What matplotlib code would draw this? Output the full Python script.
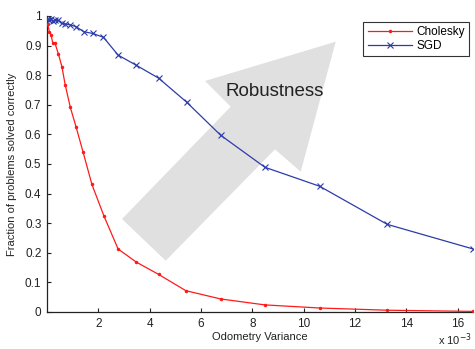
import matplotlib
matplotlib.use("Agg")
import matplotlib.pyplot as plt
from matplotlib.patches import Polygon

plt.rcParams['font.family'] = ['Liberation Sans', 'DejaVu Sans']

# Odometry variance (x 1e-3)
chol_x = [0.03, 0.09, 0.16, 0.22, 0.31, 0.44, 0.58, 0.71, 0.91, 1.13, 1.41, 1.75,
          2.22, 2.77, 3.47, 4.35, 5.41, 6.77, 8.49, 10.62, 13.26, 16.6]
chol_y = [0.973, 0.947, 0.936, 0.91, 0.908, 0.873, 0.829, 0.767, 0.691, 0.626, 0.539, 0.431,
          0.324, 0.213, 0.169, 0.127, 0.072, 0.044, 0.024, 0.0135, 0.006, 0.002]
sgd_x = [0.03, 0.09, 0.16, 0.22, 0.31, 0.44, 0.58, 0.71, 0.91, 1.13, 1.43, 1.78,
         2.2, 2.77, 3.47, 4.35, 5.44, 6.77, 8.49, 10.62, 13.26, 16.6]
sgd_y = [0.99, 0.985, 0.99, 0.982, 0.986, 0.985, 0.975, 0.973, 0.97, 0.964, 0.947, 0.941,
         0.928, 0.868, 0.834, 0.79, 0.709, 0.597, 0.489, 0.425, 0.296, 0.213]

xticks = [2, 4, 6, 8, 10, 12, 14, 16]
yticks = [0, 0.1, 0.2, 0.3, 0.4, 0.5, 0.6, 0.7, 0.8, 0.9, 1]
ytick_labels = ['0', '0.1', '0.2', '0.3', '0.4', '0.5', '0.6', '0.7', '0.8', '0.9', '1']

W, H = 475, 349
fig = plt.figure(figsize=(W / 100, H / 100), dpi=100)
L, R, T, B = 47, 473, 16, 312
ax = fig.add_axes([L / W, 1 - B / H, (R - L) / W, (B - T) / H])

# Robustness arrow (axes-pixel outline)
arrow_px = [(122, 219), (230.7, 106.7), (205, 81), (335.7, 41.7), (300.7, 171.7),
            (275, 149.3), (165.7, 260.7)]
arrow_ax = [((px - L) / (R - L), (B - py) / (B - T)) for px, py in arrow_px]
ax.add_patch(Polygon(arrow_ax, closed=True, transform=ax.transAxes,
                     facecolor='#e0e0e0', edgecolor='none', zorder=0.5))
ax.text((275 - L) / (R - L), (B - 91) / (B - T), 'Robustness', transform=ax.transAxes,
        ha='center', va='center', fontsize=13.5, color='#222222', zorder=1)

ax.plot([v * 1e-3 for v in chol_x], chol_y, color='#ff1a1a', lw=0.9, marker='.',
        markersize=3, label='Cholesky', zorder=3)
ax.plot([v * 1e-3 for v in sgd_x], sgd_y, color='#2b3caa', lw=0.9, marker='x',
        markersize=4.5, markeredgewidth=0.8, label='SGD', zorder=3)

ax.set_xlim(0, 16.6e-3)
ax.set_ylim(0, 1)
ax.set_xticks([v * 1e-3 for v in xticks])
ax.set_xticklabels([str(v) for v in xticks])
ax.set_yticks(yticks)
ax.set_yticklabels(ytick_labels)
ax.tick_params(direction='in', labelsize=8.5, length=3, width=0.8, colors='#222222', pad=4)
ax.spines['top'].set_visible(False)
ax.spines['right'].set_visible(False)
for s in ['left', 'bottom']:
    ax.spines[s].set_color('#222222')
    ax.spines[s].set_linewidth(0.9)

ax.set_xlabel('Odometry Variance', fontsize=8, color='#222222', labelpad=2)
ax.set_ylabel('Fraction of problems solved correctly', fontsize=8, color='#222222', labelpad=6)
fig.text(455 / W, 1 - 340 / H, r'x 10$^{-3}$', fontsize=8, ha='center', va='center',
         color='#222222')

leg = ax.legend(loc='upper right', bbox_to_anchor=((471 - L) / (R - L), (B - 20) / (B - T)),
                fontsize=8.5, frameon=True, fancybox=False, edgecolor='black',
                handlelength=3.8, borderpad=0.35, labelspacing=0.15, handletextpad=0.3,
                borderaxespad=0.2)
leg.get_frame().set_linewidth(0.8)

fig.savefig('out.png', dpi=100)
